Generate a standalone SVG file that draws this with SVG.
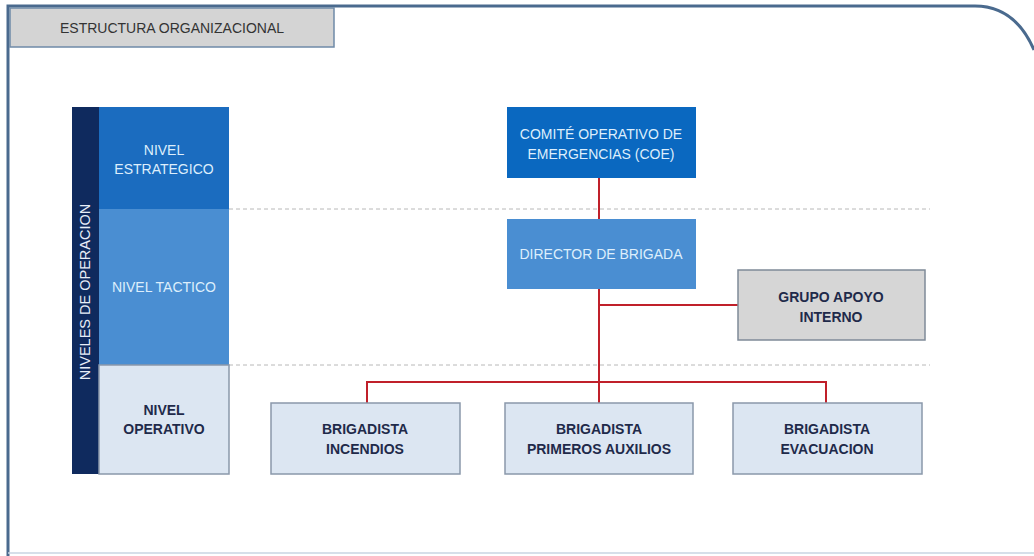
<svg xmlns="http://www.w3.org/2000/svg" width="1034" height="556" viewBox="0 0 1034 556">
<style>
.t{font-family:"Liberation Sans",Arial,sans-serif;font-size:14px;text-anchor:middle}
.w{fill:#ddeefc}
.b{fill:#1f2a4a;font-weight:bold}
.lvl{fill:#dce6f2;stroke:#8a98aa;stroke-width:1.5}
.gray{fill:#d6d6d6;stroke:#7f8a98;stroke-width:1.5}
.dash{stroke:#b8b8b8;stroke-width:1;stroke-dasharray:4 3;fill:none}
.red{stroke:#c0202a;stroke-width:2;fill:none}
</style>
<rect width="1034" height="556" fill="#ffffff"/>
<g id="frame">
<path d="M8,556 L8,6 L975,6 Q1015,6 1034,50" fill="none" stroke="#4a6a8e" stroke-width="3"/>
<line x1="8" y1="553" x2="1034" y2="553" stroke="#c8d4e2" stroke-width="1.5"/>
</g>
<g id="title">
<rect x="10" y="8" width="324" height="39" fill="#d4d4d4" stroke="#6f8aa8" stroke-width="1.5"/>
<text class="t" x="172" y="33" fill="#333" style="font-size:14px">ESTRUCTURA  ORGANIZACIONAL</text>
</g>
<g id="dashes">
<line class="dash" x1="229" y1="209" x2="930" y2="209"/>
<line class="dash" x1="229" y1="365" x2="930" y2="365"/>
</g>
<g id="niveles">
<rect x="72" y="107" width="27" height="367" fill="#0f2a5e"/>
<text class="t" transform="translate(90,292) rotate(-90)" fill="#e8eef8" style="font-size:14.5px">NIVELES DE OPERACION</text>
</g>
<g id="nivel-estrategico">
<rect x="99" y="107" width="130" height="102" fill="#1b6cbf"/>
<text class="t w" x="164" y="155">NIVEL</text>
<text class="t w" x="164" y="174">ESTRATEGICO</text>
</g>
<g id="nivel-tactico">
<rect x="99" y="209" width="130" height="156" fill="#4a8ed2"/>
<text class="t w" x="164" y="292">NIVEL TACTICO</text>
</g>
<g id="nivel-operativo">
<rect x="99" y="365" width="130" height="109" class="lvl"/>
<text class="t b" x="164" y="415">NIVEL</text>
<text class="t b" x="164" y="434">OPERATIVO</text>
</g>
<g id="connectors">
<line class="red" x1="599" y1="178" x2="599" y2="219"/>
<line class="red" x1="599" y1="289" x2="599" y2="403"/>
<line class="red" x1="599" y1="305" x2="738" y2="305"/>
<polyline class="red" points="367,403 367,382 826,382 826,403"/>
</g>
<g id="coe">
<rect x="507" y="107" width="189" height="71" fill="#0a68c0"/>
<text class="t w" x="601" y="139">COMITÉ OPERATIVO DE</text>
<text class="t w" x="601" y="159">EMERGENCIAS (COE)</text>
</g>
<g id="director">
<rect x="507" y="219" width="189" height="70" fill="#4a8ed2"/>
<text class="t w" x="601" y="259">DIRECTOR DE BRIGADA</text>
</g>
<g id="grupo-apoyo">
<rect x="738" y="270" width="187" height="70" class="gray"/>
<text class="t b" x="831" y="302">GRUPO APOYO</text>
<text class="t b" x="831" y="322">INTERNO</text>
</g>
<g id="incendios">
<rect x="271" y="403" width="189" height="71" class="lvl"/>
<text class="t b" x="365" y="434">BRIGADISTA</text>
<text class="t b" x="365" y="454">INCENDIOS</text>
</g>
<g id="primeros-auxilios">
<rect x="505" y="403" width="188" height="71" class="lvl"/>
<text class="t b" x="599" y="434">BRIGADISTA</text>
<text class="t b" x="599" y="454">PRIMEROS AUXILIOS</text>
</g>
<g id="evacuacion">
<rect x="733" y="403" width="189" height="71" class="lvl"/>
<text class="t b" x="827" y="434">BRIGADISTA</text>
<text class="t b" x="827" y="454">EVACUACION</text>
</g>
</svg>
